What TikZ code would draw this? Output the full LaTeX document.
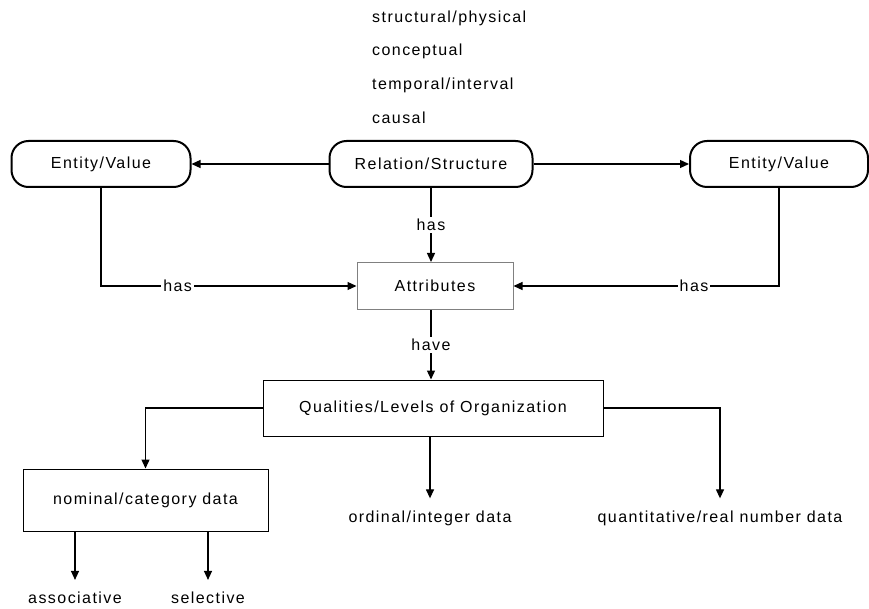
\documentclass[tikz,border=0pt]{standalone}
\usepackage{fontspec}
\setmainfont{Liberation Sans}[LetterSpace=9]
\usetikzlibrary{positioning, arrows.meta, calc}

\begin{document}
\begin{tikzpicture}[x=1pt, y=-1pt, >={Triangle[width=8pt,length=9pt]},
    every node/.style={font=\fontsize{16}{19}\selectfont, inner sep=0pt},
    capsule/.style={draw, line width=2pt, rounded corners=17pt, minimum height=46pt},
    box/.style={draw, line width=1pt},
    leaf/.style={inner xsep=0pt, inner ysep=12pt},
    link/.style={line width=1.3pt},
    lbl/.style={fill=white, inner sep=2pt}]
    \useasboundingbox (0,0) rectangle (869,609);

    % relation types above the diagram
    \node [anchor=west, align=left, font=\fontsize{16}{33.7}\selectfont] (reltypes) at (372,67) {structural/physical\\conceptual\\temporal/interval\\causal};

    \node [capsule, minimum width=179pt] (entleft) at (101,164) {Entity/Value};
    \node [capsule, minimum width=203pt] (relation) at (431,164) {Relation/Structure};
    \node [capsule, minimum width=178pt] (entright) at (779,164) {Entity/Value};
    \node [box, draw=gray, minimum width=156pt, minimum height=47pt] (attr) at (435,286) {Attributes};
    \node [box, minimum width=340pt, minimum height=56pt] (qual) at (433,408) {Qualities/Levels of Organization};
    \node [box, minimum width=245pt, minimum height=62pt] (nominal) at (145.5,500) {nominal/category data};
    \node [leaf] (ordinal) at (430,518) {ordinal/integer data};
    \node [leaf] (quant) at (720,518) {quantitative/real number data};
    \node [leaf] (assoc) at (75,598) {associative};
    \node [leaf] (selective) at (208,598) {selective};

    \draw [link,->] (relation) -- (entleft);
    \draw [link,->] (relation) -- (entright);
    \draw [link,->] (relation.south) -- node[lbl] {has} (relation.south |- attr.north);
    \draw [link,->] (entleft) |- node[lbl, pos=0.65] {has} (attr);
    \draw [link,->] (entright) |- node[lbl, pos=0.66] {has} (attr);
    \draw [link,->] (relation.south |- attr.south) -- node[lbl] {have} (relation.south |- qual.north);
    \draw [link,->] (qual) -| (nominal);
    \draw [link,->] (qual.south -| ordinal) -- (ordinal);
    \draw [link,->] (qual) -| (quant);
    \draw [link,->] (nominal.south -| assoc) -- (assoc);
    \draw [link,->] (nominal.south -| selective) -- (selective);
\end{tikzpicture}
\end{document}
